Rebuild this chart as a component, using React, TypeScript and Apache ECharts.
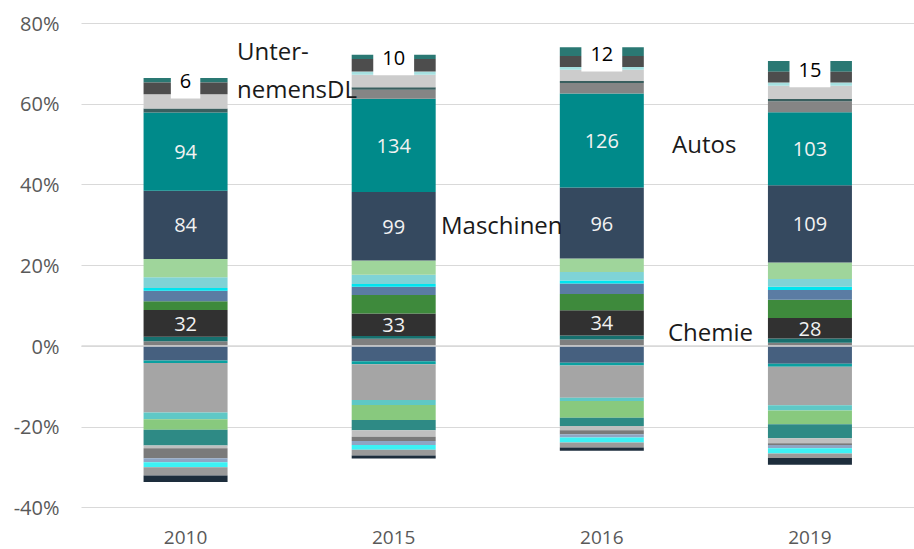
import React, { useEffect, useRef } from "react";
import * as echarts from "echarts";

const years = ["2010", "2015", "2016", "2019"];

// positive shares (%), stacked from zero upward
const posGreyBase = [1.2, 1.8, 1.6, 0.8];
const posTealThin = [1.1, 0.65, 1.0, 1.05];
const chemie = [6.6, 5.6, 6.25, 5.1];
const posGreen = [2.2, 4.6, 4.05, 4.5];
const posSteel = [2.6, 2.05, 2.55, 2.45];
const posCyan = [0.65, 0.65, 0.75, 0.8];
const posLightCyan = [2.7, 2.3, 2.15, 1.9];
const posLightGreen = [4.5, 3.5, 3.3, 4.1];
const maschinen = [16.9, 17.0, 17.6, 19.1];
const autos = [19.4, 23.1, 23.3, 18.1];
const posGreyMid = [0, 2.2, 2.6, 2.7];
const posDarkLine = [1.0, 0.65, 0.5, 0.55];
const posLightGrey = [3.5, 3.1, 2.8, 3.3];
const posPaleCyan = [0, 0.8, 0.65, 0.8];
const unternehmensDL = [2.9, 3.1, 2.7, 2.65];
const posTealTop = [1.1, 1.06, 2.2, 2.7];

// negative shares (%), stacked from zero downward
const negSlate = [-3.6, -3.75, -4.15, -4.4];
const negTeal = [-0.6, -0.8, -0.65, -0.75];
const negGrey = [-12.3, -8.8, -8.0, -9.55];
const negLightTeal = [-1.65, -1.25, -0.85, -1.25];
const negLightGreen = [-2.6, -3.7, -4.1, -3.45];
const negTealMid = [-3.9, -2.55, -2.05, -3.45];
const negLightGrey = [-0.65, -1.65, -1.05, -1.25];
const negDarkGrey = [-2.5, -1.0, -1.0, -0.4];
const negBlueGrey = [-1.0, -1.05, -0.8, -0.8];
const negCyan = [-1.2, -1.15, -1.25, -1.3];
const negGreyLow = [-2.1, -1.45, -1.25, -1.15];
const negNavy = [-1.6, -0.7, -0.8, -1.65];

// value labels shown on segments
const chemieLabels = [32, 33, 34, 28];
const maschinenLabels = [84, 99, 96, 109];
const autosLabels = [94, 134, 126, 103];
const dlLabels = [6, 10, 12, 15];

const yMin = -40;
const yMax = 80;
const yStep = 20;

const FONT = '"Open Sans", "Noto Sans", sans-serif';

export default function App() {
  const ref = useRef<HTMLDivElement>(null);

  useEffect(() => {
    document.body.style.margin = "0";
    if (!ref.current) return;
    const chart = echarts.init(ref.current, null, { renderer: "svg" });

    const inLabel = (labels: number[]) => ({
      show: true,
      position: "inside",
      color: "#f2f2f2",
      fontSize: 20,
      fontFamily: FONT,
      formatter: (p: any) => String(labels[p.dataIndex]),
    });

    const stackDefs: [string, number[], string, any?][] = [
      ["posGreyBase", posGreyBase, "#7f7f7f"],
      ["posTealThin", posTealThin, "#17706e"],
      ["Chemie", chemie, "#313131", inLabel(chemieLabels)],
      ["posGreen", posGreen, "#3e8a3c"],
      ["posSteel", posSteel, "#5b7ca3"],
      ["posCyan", posCyan, "#00e4ef"],
      ["posLightCyan", posLightCyan, "#7fd3d6"],
      ["posLightGreen", posLightGreen, "#9fd59b"],
      ["Maschinen", maschinen, "#35495f", inLabel(maschinenLabels)],
      ["Autos", autos, "#008a8a", inLabel(autosLabels)],
      ["posGreyMid", posGreyMid, "#858585"],
      ["posDarkLine", posDarkLine, "#3a5f5f"],
      ["posLightGrey", posLightGrey, "#cccccc"],
      ["posPaleCyan", posPaleCyan, "#a6e0e0"],
      [
        "UnternehmensDL",
        unternehmensDL,
        "#4d4d4d",
        {
          show: true,
          position: "inside",
          offset: [0, -8],
          color: "#000",
          fontSize: 20,
          fontFamily: FONT,
          backgroundColor: "#ffffff",
          padding: [8, 9, 8, 9],
          formatter: (p: any) => String(dlLabels[p.dataIndex]),
        },
      ],
      ["posTealTop", posTealTop, "#2a7873"],
      ["negSlate", negSlate, "#46607f"],
      ["negTeal", negTeal, "#0aa0a0"],
      ["negGrey", negGrey, "#a5a5a5"],
      ["negLightTeal", negLightTeal, "#5fc8c6"],
      ["negLightGreen", negLightGreen, "#88c97e"],
      ["negTealMid", negTealMid, "#2e8a85"],
      ["negLightGrey", negLightGrey, "#bfbfbf"],
      ["negDarkGrey", negDarkGrey, "#7a7a7a"],
      ["negBlueGrey", negBlueGrey, "#8ea6c4"],
      ["negCyan", negCyan, "#3cf2f5"],
      ["negGreyLow", negGreyLow, "#9a9a9a"],
      ["negNavy", negNavy, "#1d2d3c"],
    ];

    const series: any[] = stackDefs.map(([name, data, color, label]) => ({
      name,
      type: "bar",
      stack: "total",
      barWidth: 84,
      data,
      z: name === "UnternehmensDL" ? 4 : 2,
      itemStyle: { color },
      label: label || { show: false },
      emphasis: { disabled: true },
    }));

    series[0].markLine = {
      silent: true,
      symbol: "none",
      z: 5,
      label: { show: false },
      lineStyle: { color: "#d9d9d9", width: 1.5, type: "solid" },
      data: [{ yAxis: 0 }],
    };

    const annText = (text: string, x: number, y: number) => ({
      type: "text",
      x,
      y,
      z: 10,
      style: {
        text,
        fill: "#1a1a1a",
        fontSize: 24,
        fontFamily: FONT,
        align: "left",
        verticalAlign: "middle",
      },
    });

    chart.setOption({
      animation: false,
      grid: { left: 81.5, right: -12, top: 23, bottom: 41.5, containLabel: false },
      xAxis: {
        type: "category",
        data: years,
        axisLine: { show: false },
        axisTick: { show: false },
        axisLabel: {
          color: "#595959",
          fontSize: 19,
          lineHeight: 20,
          fontFamily: FONT,
          margin: 19,
        },
      },
      yAxis: {
        type: "value",
        min: yMin,
        max: yMax,
        interval: yStep,
        axisLine: { show: false },
        axisTick: { show: false },
        axisLabel: {
          color: "#595959",
          fontSize: 20,
          fontFamily: FONT,
          margin: 22,
          formatter: "{value}%",
        },
        splitLine: { lineStyle: { color: "#d9d9d9", width: 1 } },
      },
      series,
      graphic: [
        annText("Unter-", 237, 50),
        annText("nemensDL", 237, 88),
        annText("Autos", 672, 143),
        annText("Maschinen", 441, 224),
        annText("Chemie", 668, 331),
      ],
    });

    return () => chart.dispose();
  }, []);

  return <div ref={ref} style={{ width: 914, height: 549 }} />;
}
